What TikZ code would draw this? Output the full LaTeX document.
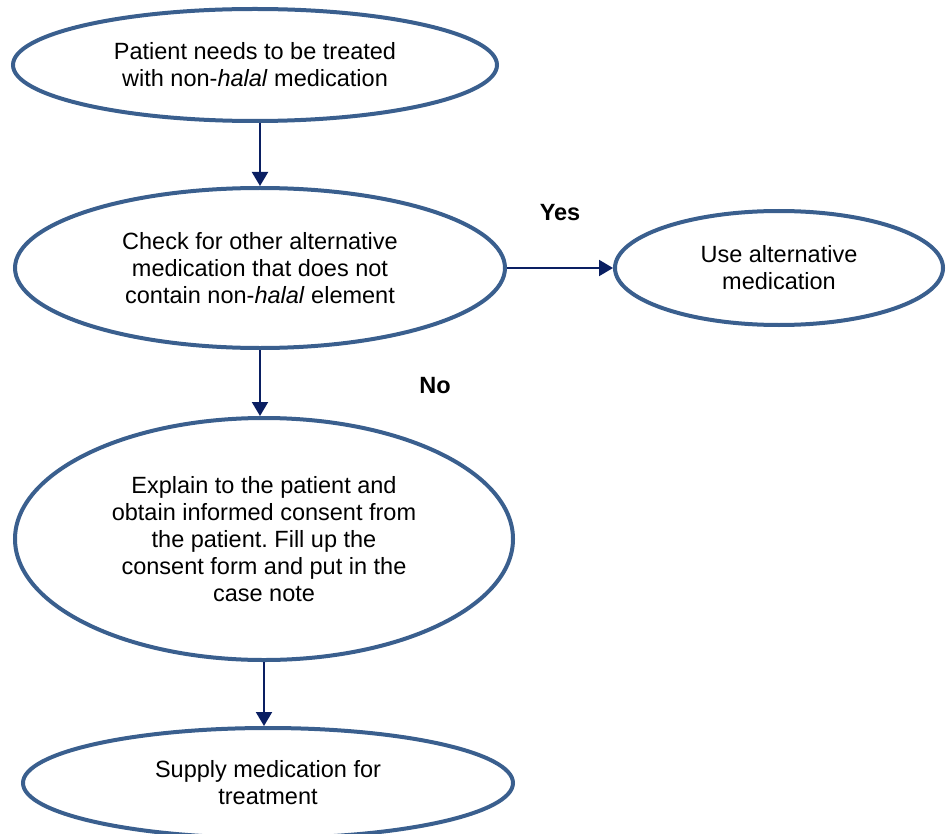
\documentclass[tikz,border=0pt]{standalone}
\usepackage{fontspec}
\setmainfont{Liberation Sans}
\usetikzlibrary{shapes.geometric,arrows.meta}
\definecolor{edgeblue}{HTML}{3A5F8E}
\definecolor{navy}{HTML}{0A1F62}
\frenchspacing
\tikzset{
  oval/.style={ellipse, draw=edgeblue, line width=4pt, fill=white, inner sep=0pt,
    align=center, font=\fontsize{23.5}{27}\selectfont},
  flow/.style={draw=navy, line width=2pt, -{Triangle[length=14pt,width=16pt]}},
  answer/.style={font=\fontsize{23.5}{27}\selectfont\bfseries}
}
\begin{document}
\begin{tikzpicture}[x=1pt,y=-1pt]
\useasboundingbox (0,0) rectangle (949,834);
\clip (0,0) rectangle (949,834);
\node[oval, minimum width=484pt, minimum height=112pt] (start) at (255,65)
  {Patient needs to be treated\\with non-\textit{halal} medication};
\node[oval, minimum width=490pt, minimum height=160pt] (check) at (260,268)
  {Check for other alternative\\medication that does not\\contain non-\textit{halal} element};
\node[oval, minimum width=328pt, minimum height=114pt] (alt) at (779,268)
  {Use alternative\\medication};
\node[oval, minimum width=498pt, minimum height=242pt] (explain) at (264,539)
  {Explain to the patient and\\obtain informed consent from\\the patient. Fill up the\\consent form and put in the\\case note};
\node[oval, minimum width=490pt, minimum height=110pt] (supply) at (268,783)
  {Supply medication for\\treatment};
\node[answer] (yes) at (560,213) {Yes};
\node[answer] (no) at (435,386) {No};
\draw[flow] (check.north |- start.south) -- (check.north);
\draw[flow] (check.south) -- (explain.north -| check.south);
\draw[flow] (check.east) -- (alt.west);
\draw[flow] (explain.south) -- (supply.north -| explain.south);
\end{tikzpicture}
\end{document}
